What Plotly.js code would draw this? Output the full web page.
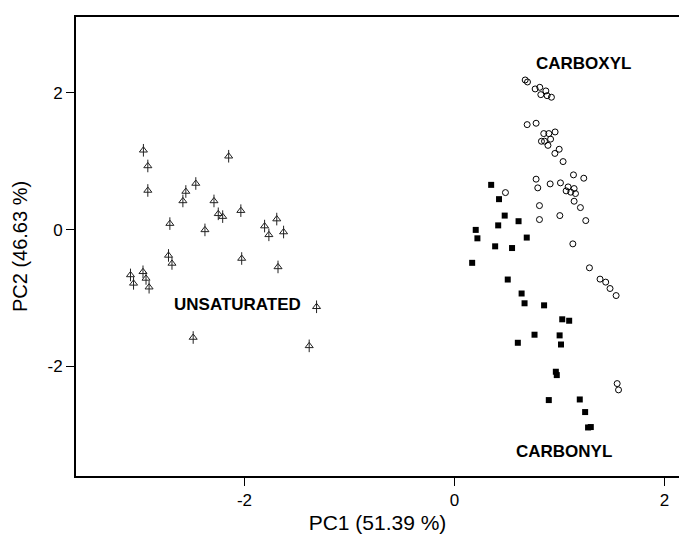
<!DOCTYPE html>
<html>
<head>
<meta charset="utf-8">
<script src="https://cdn.plot.ly/plotly-3.0.1.min.js"></script>
<style>html,body{margin:0;padding:0;background:#fff;}#chart{width:679px;height:547px;}</style>
</head>
<body>
<div id="chart"></div>
<script>
// UNSATURATED (triangles)
const unsatX = [-2.963,-2.921,-2.921,-2.151,-2.464,-2.559,-2.587,-2.291,-2.250,-2.208,-2.035,-2.711,-2.377,-1.809,-1.693,-1.768,-1.628,-2.724,-2.691,-2.027,-1.681,-3.086,-3.057,-2.967,-2.938,-2.909,-1.314,-2.489,-1.384];
const unsatY = [1.158,0.929,0.571,1.071,0.673,0.556,0.418,0.418,0.230,0.189,0.276,0.087,-0.005,0.051,0.153,-0.077,-0.036,-0.378,-0.495,-0.423,-0.546,-0.663,-0.786,-0.617,-0.714,-0.842,-1.128,-1.577,-1.699];
// CARBOXYL (open circles)
const carboxX = [0.673,0.695,0.768,0.812,0.822,0.870,0.882,0.923,0.692,0.777,0.850,0.898,0.958,0.828,0.857,0.915,0.890,0.956,0.997,1.034,0.777,0.793,0.911,1.009,1.133,1.231,1.082,1.139,1.063,1.107,1.152,0.485,1.139,1.199,0.809,1.003,0.809,1.250,1.127,1.285,1.386,1.440,1.481,1.539,1.549,1.562];
const carboxY = [2.185,2.156,2.054,2.078,1.971,2.025,1.956,1.933,1.533,1.553,1.402,1.402,1.426,1.290,1.291,1.321,1.230,1.112,1.173,0.993,0.736,0.609,0.667,0.682,0.799,0.750,0.623,0.599,0.565,0.546,0.526,0.540,0.414,0.321,0.350,0.204,0.146,0.131,-0.209,-0.559,-0.724,-0.768,-0.861,-0.964,-2.250,-2.342];
// CARBONYL (filled squares)
const carbonX = [0.349,0.424,0.478,0.416,0.610,0.202,0.218,0.387,0.548,0.688,0.168,0.507,0.639,0.667,0.853,1.026,1.092,0.762,1.001,0.603,1.014,0.965,0.974,0.898,1.193,1.244,1.272,1.298];
const carbonY = [0.653,0.444,0.204,0.061,0.122,-0.005,-0.128,-0.245,-0.270,-0.117,-0.486,-0.730,-0.934,-1.077,-1.107,-1.311,-1.332,-1.536,-1.546,-1.654,-1.679,-2.077,-2.126,-2.491,-2.482,-2.666,-2.891,-2.885];

const groupLabels = ["UNSATURATED", "CARBOXYL", "CARBONYL"];
const labelX = [-2.067, 1.229, 1.038];
const labelY = [-1.099, 2.419, -3.238];
const xTicks = [-2, 0, 2];
const yTicks = [-2, 0, 2];

const font = "Liberation Sans, Arial, Helvetica, sans-serif";

const traces = [
  {x: unsatX, y: unsatY, mode: "markers", type: "scatter", hoverinfo: "skip",
   marker: {symbol: "triangle-up-open", size: 7, color: "#222", line: {width: 1, color: "#222"}}},
  {x: unsatX, y: unsatY, mode: "markers", type: "scatter", hoverinfo: "skip",
   marker: {symbol: "line-ns-open", size: 9, color: "#222", line: {width: 1, color: "#222"}}},
  {x: carboxX, y: carboxY, mode: "markers", type: "scatter",
   marker: {symbol: "circle-open", size: 6, color: "#000", line: {width: 1, color: "#000"}}},
  {x: carbonX, y: carbonY, mode: "markers", type: "scatter",
   marker: {symbol: "square", size: 6, color: "#000", line: {width: 0}}}
];

const annotations = groupLabels.map((t, i) => ({
  x: labelX[i], y: labelY[i], xref: "x", yref: "y", text: "<b>" + t + "</b>", showarrow: false,
  xanchor: "center", yanchor: "middle",
  font: {family: font, size: 17, color: "#000"}
}));

const layout = {
  width: 679, height: 547,
  margin: {l: 76, r: 0, t: 17, b: 71},
  paper_bgcolor: "#fff", plot_bgcolor: "#fff",
  showlegend: false,
  font: {family: font, color: "#000"},
  xaxis: {
    range: [-3.605, 2.138], tickvals: xTicks, ticktext: xTicks.map(String),
    showgrid: false, zeroline: false, showline: true, mirror: true, linecolor: "#000", linewidth: 2,
    ticks: "outside", ticklen: 8, tickwidth: 1.5, tickcolor: "#000",
    tickfont: {size: 17, family: font, color: "#000"},
    title: {text: "PC1 (51.39 %)", font: {size: 21, family: font, color: "#000"}, standoff: 6},
    automargin: false
  },
  yaxis: {
    range: [-3.60, 3.105], tickvals: yTicks, ticktext: yTicks.map(String),
    showgrid: false, zeroline: false, showline: true, mirror: false, linecolor: "#000", linewidth: 2,
    ticks: "outside", ticklen: 8, tickwidth: 1.5, tickcolor: "#000",
    tickfont: {size: 17, family: font, color: "#000"},
    title: {text: "PC2 (46.63 %)", font: {size: 20, family: font, color: "#000"}, standoff: 14},
    automargin: false
  },
  annotations: annotations
};

Plotly.newPlot("chart", traces, layout, {displayModeBar: false, staticPlot: true});
</script>
</body>
</html>
